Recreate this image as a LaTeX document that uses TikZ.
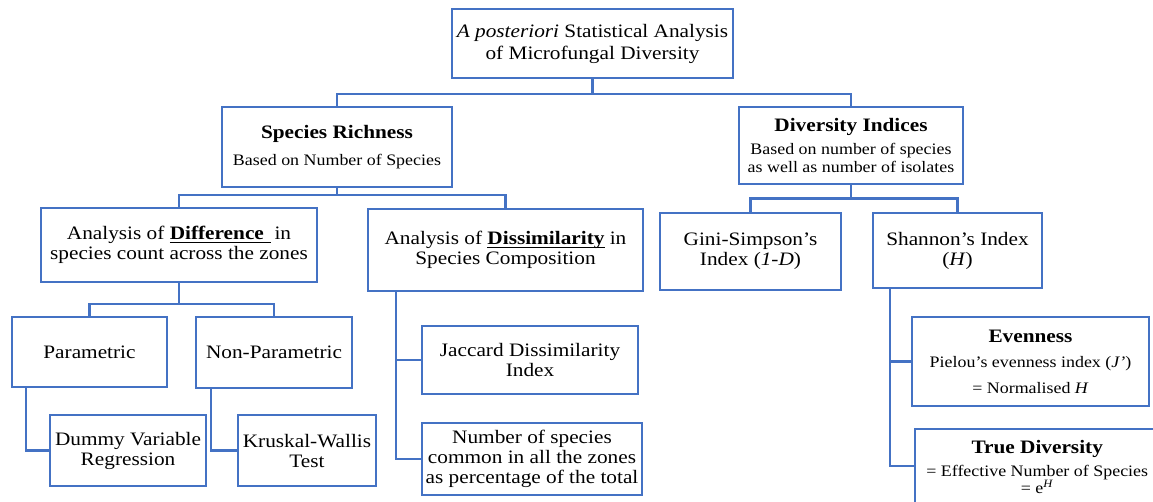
\documentclass[tikz,border=0pt]{standalone}
\usepackage{fontspec}
\setmainfont[FakeStretch=1.12]{Liberation Serif}
\definecolor{lineblue}{HTML}{4472C4}
\newcommand{\mainfs}{\fontsize{19}{20}\selectfont}
\newcommand{\subfs}{\fontsize{16}{17}\selectfont}
\newcommand{\ulbold}[2][0pt]{{\setbox0=\hbox{\textbf{#2}}\leavevmode\rlap{\rule[-3pt]{\dimexpr\wd0+#1\relax}{1.1pt}}\box0}}
\tikzset{
  box/.style={draw=lineblue, line width=2.4pt, align=center, inner sep=0pt, font=\mainfs, text=black},
  conn/.style={draw=lineblue, line width=2.4pt},
}
\begin{document}
\begin{tikzpicture}[x=1pt, y=-1pt]
\useasboundingbox (0,0) rectangle (1153,502);
\fill[white] (0,0) rectangle (1153,502);

% nodes
\node[box, minimum width=281pt, minimum height=69pt] (top) at (592.5,43.5)
  {\textit{A posteriori} Statistical Analysis\\[2pt]of Microfungal Diversity};
\node[box, minimum width=230pt, minimum height=80pt] (sr) at (337,147)
  {\textbf{Species Richness}\\[7pt]{\subfs Based on Number of Species}};
\node[box, minimum width=224pt, minimum height=77pt] (di) at (851,145.5)
  {\textbf{Diversity Indices}\\[3pt]{\subfs Based on number of species}\\[-2pt]{\subfs as well as number of isolates}};
\node[box, minimum width=276pt, minimum height=74pt] (diff) at (179,245)
  {Analysis of \ulbold[7pt]{Difference}\ \ in\\species count across the zones};
\node[box, minimum width=275pt, minimum height=82pt] (dis) at (505.5,250)
  {Analysis of \ulbold{Dissimilarity} in\\Species Composition};
\node[box, minimum width=181pt, minimum height=77pt] (gini) at (750.5,251.5)
  {Gini-Simpson’s\\Index (\textit{1-D})};
\node[box, minimum width=169pt, minimum height=75pt] (shan) at (957.5,250.5)
  {Shannon’s Index\\(\textit{H})};
\node[box, minimum width=155pt, minimum height=70pt] (par) at (89.5,352)
  {Parametric};
\node[box, minimum width=156pt, minimum height=71pt] (npar) at (274,352.5)
  {Non-Parametric};
\node[box, minimum width=156pt, minimum height=71pt] (dummy) at (128,450.5)
  {Dummy Variable\\Regression};
\node[box, minimum width=138pt, minimum height=71pt] (krus) at (307,450.5)
  {Kruskal-Wallis\\Test};
\node[box, minimum width=216pt, minimum height=68pt] (jac) at (530,360)
  {Jaccard Dissimilarity\\Index};
\node[box, minimum width=220pt, minimum height=72pt] (num) at (532,459)
  {Number of species\\common in all the zones\\as percentage of the total};
\node[box, minimum width=237pt, minimum height=89pt] (even) at (1030.5,361.5)
  {\textbf{Evenness}\\[5pt]{\subfs Pielou’s evenness index (\textit{J'})}\\[6pt]{\subfs = Normalised \textit{H}}};
\node[box, minimum width=244pt, minimum height=76pt, anchor=north west] (true) at (914,428)
  {\textbf{True Diversity}\\[3pt]{\subfs = Effective Number of Species}\\[-3pt]{\subfs = e\textsuperscript{\textit{H}}}};

% connectors
\draw[conn] (top.south) -- ++(0,15) -| (sr.north);
\draw[conn] (top.south) -- ++(0,15) -| (di.north);
\draw[conn] (sr.south) -- ++(0,7) -| (diff.north);
\draw[conn] (sr.south) -- ++(0,7) -| (dis.north);
\draw[conn] (di.south) -- ++(0,13.5) -| (gini.north);
\draw[conn] (di.south) -- ++(0,13.5) -| (shan.north);
\draw[conn] (diff.south) -- ++(0,21) -| (par.north);
\draw[conn] (diff.south) -- ++(0,21) -| (npar.north);
\draw[conn] ([xshift=15pt]par.south west) |- (dummy.west);
\draw[conn] ([xshift=16pt]npar.south west) |- (krus.west);
\draw[conn] ([xshift=29pt]dis.south west) |- (jac.west);
\draw[conn] ([xshift=29pt]dis.south west) |- (num.west);
\draw[conn] ([xshift=18pt]shan.south west) |- (even.west);
\draw[conn] ([xshift=18pt]shan.south west) |- ([yshift=1pt]true.west);
\end{tikzpicture}
\end{document}
